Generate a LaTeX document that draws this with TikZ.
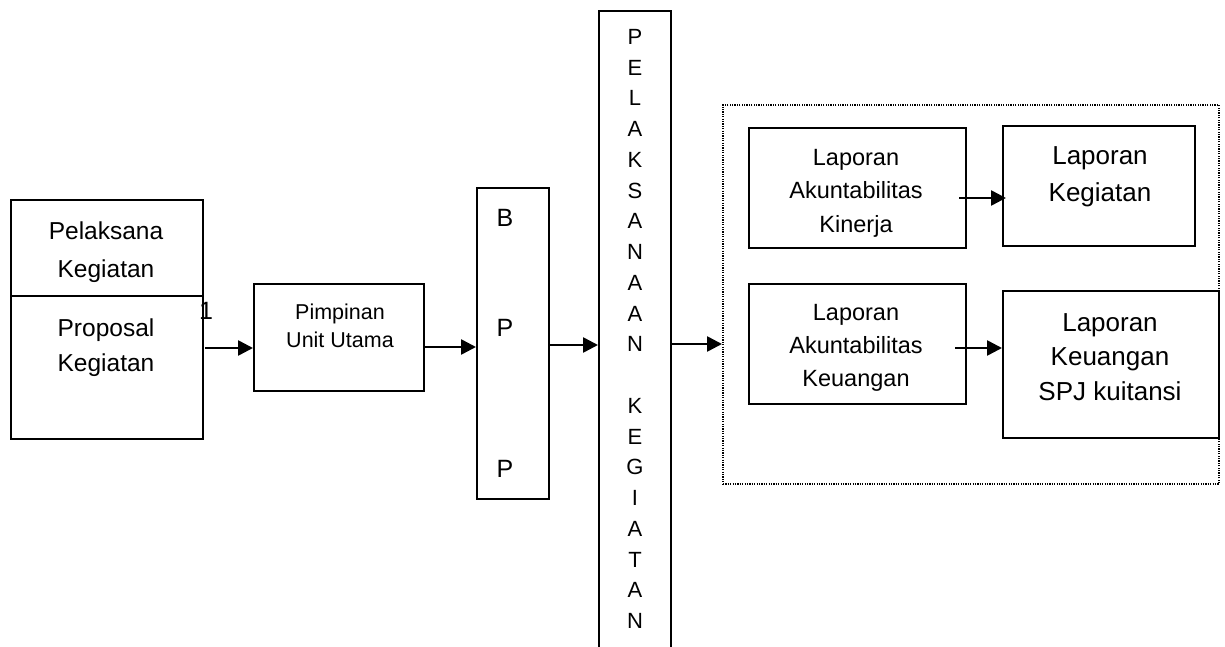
\documentclass[tikz,border=0pt]{standalone}
\usepackage{fontspec}
\setmainfont{Liberation Sans}
\usetikzlibrary{arrows.meta}
\begin{document}
\begin{tikzpicture}[x=1pt,y=-1pt,
  box/.style={draw,line width=2pt,inner sep=0pt,anchor=north west},
  arr/.style={line width=2.6pt,-{Triangle[length=15pt,width=15pt]}},
  txt/.style={inner sep=0pt,align=center},
]
\useasboundingbox (0,0) rectangle (1225,647);
% boxes
\node[box,minimum width=192pt,minimum height=96pt] (pk) at (10,199) {};
\node[box,minimum width=192pt,minimum height=143pt] (prop) at (10,295) {};
\node[box,minimum width=170pt,minimum height=107pt] (pim) at (253,283) {};
\node[box,minimum width=72pt,minimum height=311pt] (bpp) at (476,187) {};
\node[box,minimum width=72pt,minimum height=680pt] (pel) at (598,10) {};
\node[box,line width=1.8pt,dash pattern=on 1.2pt off 1.2pt,minimum width=496pt,minimum height=379pt] (dot) at (722,104) {};
\node[box,minimum width=217pt,minimum height=120pt] (kin) at (748,127) {};
\node[box,minimum width=192pt,minimum height=120pt] (keg) at (1002,125) {};
\node[box,minimum width=217pt,minimum height=120pt] (keu) at (748,283) {};
\node[box,minimum width=216pt,minimum height=147pt] (spj) at (1002,290) {};
% texts
\node[txt,font=\fontsize{24.5}{38}\selectfont] (pkt) at (106,252) {Pelaksana\\Kegiatan};
\node[txt,font=\fontsize{24.5}{35}\selectfont] (propt) at (106,348) {Proposal\\Kegiatan};
\node[txt,font=\fontsize{25}{30}\selectfont] (one) at (206,311) {1};
\node[txt,font=\fontsize{21.5}{28}\selectfont] (pimt) at (340,326) {Pimpinan\\Unit Utama};
\node[txt,font=\fontsize{25}{30}\selectfont] (b1) at (505,218) {B};
\node[txt,font=\fontsize{25}{30}\selectfont] (b2) at (505,328) {P};
\node[txt,font=\fontsize{25}{30}\selectfont] (b3) at (505,469) {P};
\node[txt,anchor=north,font=\fontsize{22}{30.75}\selectfont] (pelt) at (635,29)
  {P\\E\\L\\A\\K\\S\\A\\N\\A\\A\\N\\[30.75pt]K\\E\\G\\I\\A\\T\\A\\N};
\node[txt,font=\fontsize{23.5}{33.5}\selectfont] (kint) at (856,193) {Laporan\\Akuntabilitas\\Kinerja};
\node[txt,font=\fontsize{26}{37}\selectfont] (kegt) at (1100,177) {Laporan\\Kegiatan};
\node[txt,font=\fontsize{23.5}{33}\selectfont] (keut) at (856,348) {Laporan\\Akuntabilitas\\Keuangan};
\node[txt,font=\fontsize{26}{34.5}\selectfont] (spjt) at (1110,357) {Laporan\\Keuangan\\SPJ kuitansi};
% arrows
\coordinate (a1) at (205,348);
\coordinate (a2) at (424,347);
\coordinate (a3) at (548,345);
\coordinate (a4) at (672,344);
\coordinate (a5) at (959,198);
\coordinate (a6) at (955,348);
\draw[arr] (a1) -- (a1 -| pim.west);
\draw[arr] (a2) -- (a2 -| bpp.west);
\draw[arr] (a3) -- (a3 -| pel.west);
\draw[arr] (a4) -- (a4 -| dot.west);
\draw[arr,shorten >=-4pt] (a5) -- (a5 -| keg.west);
\draw[arr] (a6) -- (a6 -| spj.west);
\end{tikzpicture}
\end{document}
